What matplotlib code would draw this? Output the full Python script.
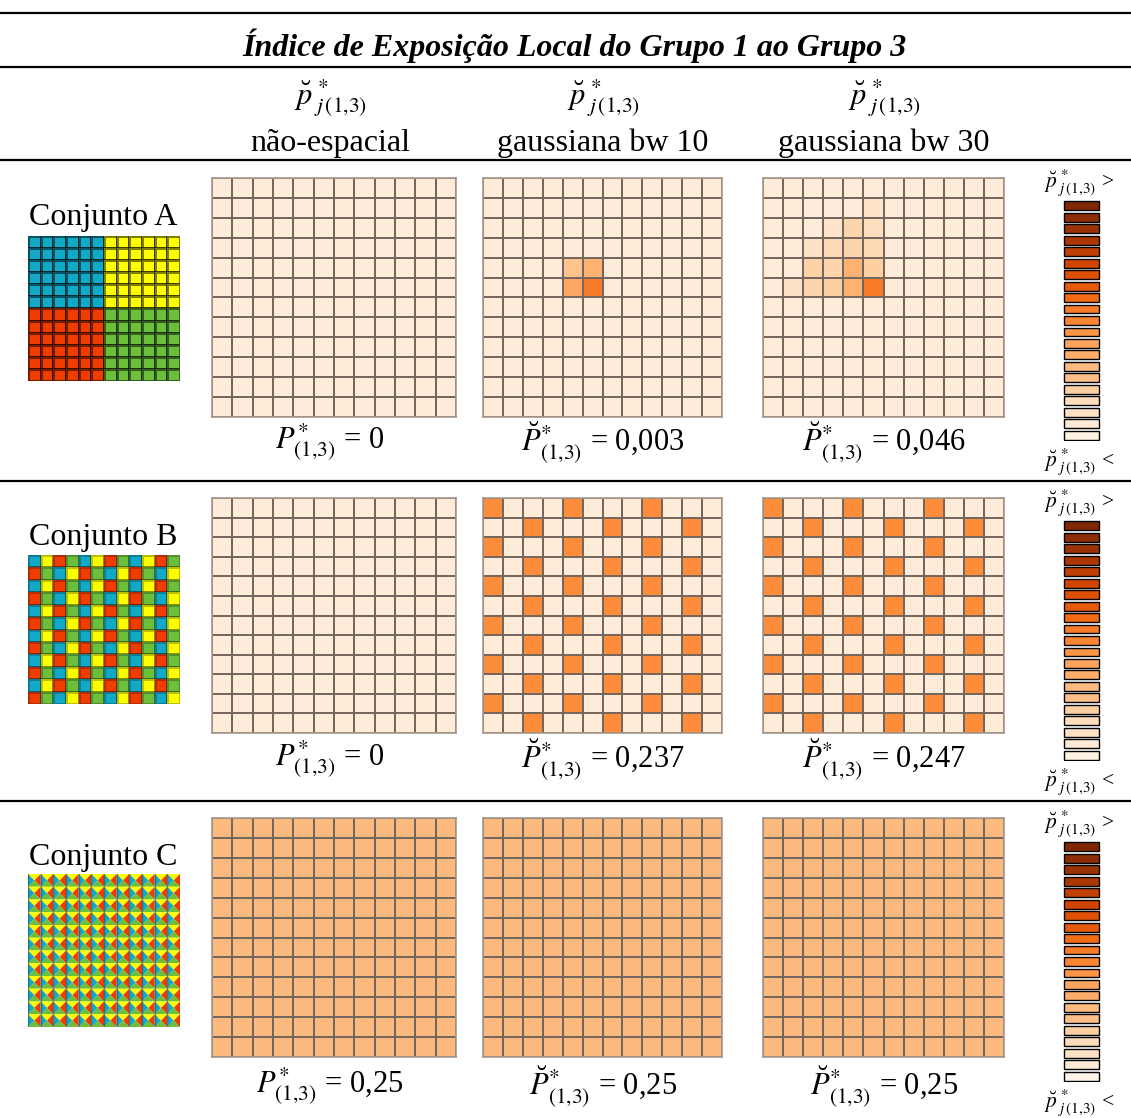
import numpy as np
import matplotlib
matplotlib.use("Agg")
import matplotlib.pyplot as plt
from matplotlib.colors import ListedColormap, Normalize
from matplotlib.collections import PolyCollection

plt.rcParams['font.family'] = ['Liberation Serif', 'DejaVu Serif']
plt.rcParams['mathtext.fontset'] = 'stix'

# ---------------- data ----------------
title = "Índice de Exposição Local do Grupo 1 ao Grupo 3"
col_headers = ["não-espacial", "gaussiana bw 10", "gaussiana bw 30"]
row_labels = ["Conjunto A", "Conjunto B", "Conjunto C"]
index_labels = [
    [r"$P^{*}_{(1{,}3)}$ = 0", r"$\breve{P}^{*}_{(1{,}3)}$ = 0,003", r"$\breve{P}^{*}_{(1{,}3)}$ = 0,046"],
    [r"$P^{*}_{(1{,}3)}$ = 0", r"$\breve{P}^{*}_{(1{,}3)}$ = 0,237", r"$\breve{P}^{*}_{(1{,}3)}$ = 0,247"],
    [r"$P^{*}_{(1{,}3)}$ = 0,25", r"$\breve{P}^{*}_{(1{,}3)}$ = 0,25", r"$\breve{P}^{*}_{(1{,}3)}$ = 0,25"],
]
header_symbol = r"$\breve{p}^{\,*}_{\;j\,(1{,}3)}$"

group_colors = ["#12a9c6", "#fefe00", "#ef3d00", "#6bbf3a"]  # grupo 1..4

# Set A groups (12x12): quadrants
setA_groups = [[0]*6 + [1]*6]*6 + [[2]*6 + [3]*6]*6
# Set B groups: alternating rows
setB_row_even = [0, 1, 2, 3, 0, 1, 2, 3, 0, 1, 2, 3]
setB_row_odd = [2, 3, 0, 1, 2, 3, 0, 1, 2, 3, 0, 1]
setB_groups = [setB_row_even if r % 2 == 0 else setB_row_odd for r in range(12)]
# Set C: each cell split into triangles (top, right, bottom, left)
setC_triangle_groups = [1, 2, 3, 0]

BASE = 0.08
# local index levels (colour level on Oranges scale)
A_bw10_cells = {(4, 4): 0.30, (4, 5): 0.36, (5, 4): 0.40, (5, 5): 0.56}
A_bw30_cells = {(1, 5): 0.14,
                (2, 3): 0.14, (2, 4): 0.22, (2, 5): 0.17,
                (3, 2): 0.15, (3, 3): 0.20, (3, 4): 0.22, (3, 5): 0.20,
                (4, 2): 0.24, (4, 3): 0.22, (4, 4): 0.36, (4, 5): 0.25,
                (5, 1): 0.15, (5, 2): 0.22, (5, 3): 0.25, (5, 4): 0.36, (5, 5): 0.56}
B_high = 0.50
C_level = 0.33

legend_levels = [1.0, 0.95, 0.91, 0.86, 0.81, 0.77, 0.72, 0.68, 0.62, 0.56, 0.53,
                 0.47, 0.41, 0.38, 0.33, 0.31, 0.25, 0.18, 0.15, 0.09, 0.02]

# ---------------- build matrices ----------------
def base_grid():
    return np.full((12, 12), BASE)

A0 = base_grid()
A1 = base_grid()
for (r, c), v in A_bw10_cells.items():
    A1[r, c] = v
A2 = base_grid()
for (r, c), v in A_bw30_cells.items():
    A2[r, c] = v
B0 = base_grid()
Bg = np.array(setB_groups)
B1 = np.where(Bg == 0, B_high, BASE)
B2 = np.where(Bg == 0, B_high, BASE)
C0 = np.full((12, 12), C_level)
maps = [[A0, A1, A2], [B0, B1, B2], [C0, C0.copy(), C0.copy()]]

# ---------------- layout ----------------
W, H = 1131, 1118
fig = plt.figure(figsize=(W / 100, H / 100), dpi=100)
bg = fig.add_axes([0, 0, 1, 1])
bg.set_xlim(0, W)
bg.set_ylim(H, 0)
bg.axis('off')


def px_axes(x0, y0, x1, y1):
    return fig.add_axes([x0 / W, 1 - y1 / H, (x1 - x0) / W, (y1 - y0) / H])


for y in [13, 67, 160, 481, 801]:
    bg.plot([0, W], [y, y], color='black', lw=1.6, solid_capstyle='butt')

bg.text(574, 46, title, ha='center', va='center', fontsize=23,
        fontweight='bold', fontstyle='italic')

col_x = [330, 603, 884]
for cx, h in zip(col_x, col_headers):
    bg.text(cx, 98, header_symbol, ha='center', va='center', fontsize=22)
    bg.text(cx, 143, h, ha='center', va='center', fontsize=23)

cmap = plt.get_cmap('Oranges')
norm = Normalize(0, 1)

grid_x = [(212, 456), (483, 722), (763, 1004)]
grid_y = [(178, 417), (498, 733), (818, 1057)]
label_y = [442, 759, 1086]
rowlab_y = [217, 538, 858]
small_y = [(236, 381), (555, 704), (874, 1027)]
legend_y = [(200, 441), (520, 761), (841, 1082)]

gcmap = ListedColormap(group_colors)

for ri in range(3):
    y0, y1 = grid_y[ri]
    for ci in range(3):
        x0, x1 = grid_x[ci]
        ax = px_axes(x0, y0, x1, y1)
        ax.pcolormesh(maps[ri][ci], cmap=cmap, norm=norm,
                      edgecolors='#76675e', linewidth=1.1)
        ax.set_xlim(0, 12)
        ax.set_ylim(12, 0)
        ax.set_xticks([])
        ax.set_yticks([])
        for s in ax.spines.values():
            s.set_color('#a8998f')
            s.set_linewidth(1.2)
        bg.text(col_x[ci], label_y[ri], index_labels[ri][ci], ha='center',
                va='center', fontsize=22)

    bg.text(103, rowlab_y[ri], row_labels[ri], ha='center', va='center', fontsize=23)

    sy0, sy1 = small_y[ri]
    sax = px_axes(28, sy0, 180, sy1)
    if ri == 0:
        sax.pcolormesh(np.array(setA_groups), cmap=gcmap, vmin=-0.5, vmax=3.5,
                       edgecolors=(0, 0, 0, 0.5), linewidth=1.0)
    elif ri == 1:
        sax.pcolormesh(np.array(setB_groups), cmap=gcmap, vmin=-0.5, vmax=3.5,
                       edgecolors=(0, 0, 0, 0.25), linewidth=0.8)
    else:
        polys, cols = [], []
        for r in range(12):
            for c in range(12):
                ctr = (c + 0.5, r + 0.5)
                tri = [
                    [(c, r), (c + 1, r), ctr],          # top
                    [(c + 1, r), (c + 1, r + 1), ctr],  # right
                    [(c + 1, r + 1), (c, r + 1), ctr],  # bottom
                    [(c, r + 1), (c, r), ctr],          # left
                ]
                for t, g in zip(tri, setC_triangle_groups):
                    polys.append(t)
                    cols.append(group_colors[g])
        sax.add_collection(PolyCollection(polys, facecolors=cols, edgecolors='none'))
        for c in range(13):
            sax.plot([c, c], [0, 12], color=(0.3, 0.2, 0.1, 0.45), lw=1.0)
    sax.set_xlim(0, 12)
    sax.set_ylim(12, 0)
    sax.set_xticks([])
    sax.set_yticks([])
    for s in sax.spines.values():
        s.set_visible(False)

    ly0, ly1 = legend_y[ri]
    lax = px_axes(1060, ly0, 1102, ly1)
    n = len(legend_levels)
    lax.barh(np.arange(n), [1] * n, left=0, height=0.78,
             color=[cmap(v) for v in legend_levels], edgecolor='black', linewidth=1.0)
    lax.set_xlim(-0.1, 1.1)
    lax.set_ylim(n - 0.5, -0.5)
    lax.axis('off')
    bg.text(1044, ly0 - 17, header_symbol + " >", ha='left', va='center', fontsize=15.5)
    bg.text(1044, ly1 + 21, header_symbol + " <", ha='left', va='center', fontsize=15.5)

fig.savefig("out.png", dpi=100)
